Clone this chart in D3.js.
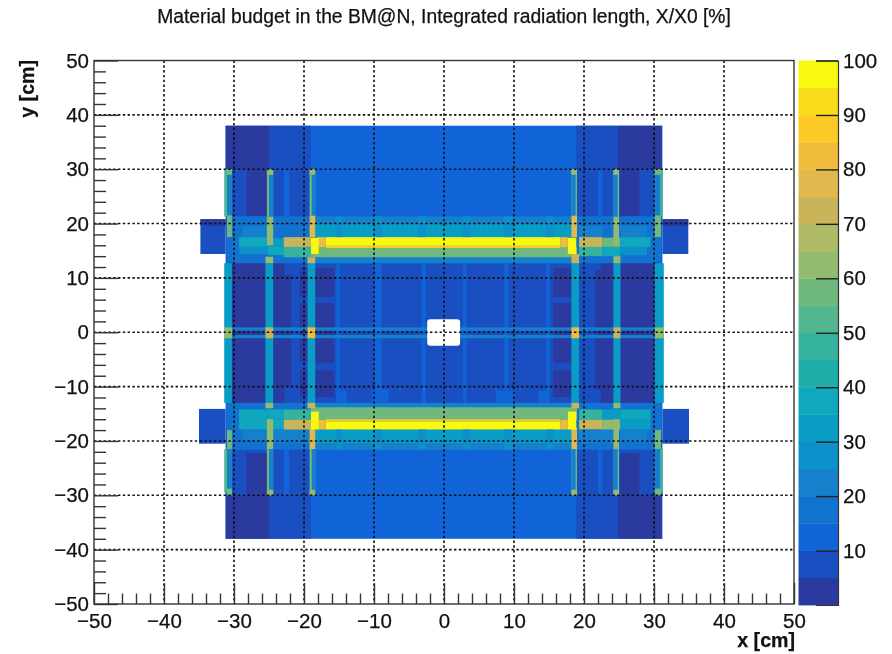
<!DOCTYPE html>
<html>
<head>
<meta charset="utf-8">
<script src="https://d3js.org/d3.v7.min.js"></script>
<style>
  html, body { margin: 0; padding: 0; background: #fff; }
  svg { display: block; filter: blur(0.35px); }
  text { font-family: "Liberation Sans", Arial, sans-serif; fill: #111; stroke: #111; stroke-width: 0.25px; }
</style>
</head>
<body>
<svg id="plot" width="892" height="654"></svg>
<script>
// palette steps, one per 5% of X/X0
const levels = [5, 10, 15, 20, 25, 30, 35, 40, 45, 50, 55, 60, 65, 70, 75, 80, 85, 90, 95];
const palette = ["#2a3a9e", "#1a4fc2", "#1064d8", "#1272d0", "#1580cc", "#0e90ca", "#099dc6", "#0fa8bd",
  "#20aeab", "#35b39c", "#52b78e", "#70b97e", "#92bb70", "#b0bb66", "#cab45a", "#dfb84e",
  "#f0bc3c", "#fdc927", "#f8dc18", "#f9f90f"];

// regions as [x0, x1, y0, y1, percent], painted in this order
const fields = [
  [-31.2, 31.2, -38, 38, 12],
  [-31.2, -25, 30, 38, 3], [-25, -19, 30, 38, 8], [18.9, 24.8, 30, 38, 8], [24.8, 31.1, 30, 38, 3],
  [-31.2, -25, -38, -30, 3], [-25, -19, -38, -30, 8], [18.9, 24.8, -38, -30, 8], [24.8, 31.1, -38, -30, 3],
  [-34.8, -31.2, 14.4, 20.8, 8], [31.2, 34.9, 14.4, 20.8, 8],
  [-34.8, -31.2, 19.6, 20.8, 3], [31.2, 34.9, 19.6, 20.8, 3],
  [-35, -31.2, -20.5, -14.1, 8], [31.2, 35, -20.5, -14.1, 8],
  [-31.2, -19, 21.3, 30, 8], [19, 31.2, 21.3, 30, 8],
  [-31.2, -19, -30, -21.6, 8], [19, 31.2, -30, -21.6, 8],
  [-31.2, 31.2, -13, 12.7, 8]
];

const patches = [
  [-28.2, -25.2, 21.4, 30, 3], [25.2, 27.9, 21.4, 30, 3],
  [-28.2, -25.2, -30, -22.3, 3], [25.2, 27.9, -30, -22.3, 3],
  [-22.9, -22.1, 21.4, 30, 12], [22, 22.6, 21.4, 30, 12],
  [-22.9, -22.1, -30, -21.6, 12], [22, 22.6, -30, -21.6, 12],
  [-16.9, -16.3, 24, 30, 14], [16, 16.6, 24, 30, 14],
  [-16.9, -16.3, -30, -25, 14], [16, 16.6, -30, -25, 14],
  [-30.3, -25.5, -13, 12.7, 3], [25.2, 30.1, -13, 12.7, 3],
  [-24.4, -22.8, -13, 12.7, 3], [22.4, 24.2, -13, 12.7, 3],
  [-22.8, -21.8, -10, 10.5, 3], [21.6, 22.4, -10.5, 11.5, 3],
  [-20.6, -15.7, 6.5, 11.8, 3], [15.6, 18.2, 6.5, 11.8, 3],
  [-20.6, -15.7, -5.7, 5.4, 3], [15.6, 18.2, -5.7, 5.4, 3],
  [-20.6, -15.7, -11.9, -7, 3], [15.6, 18.2, -11.9, -7, 3],
  [-15.4, -14.9, -13, 12.7, 13], [14.6, 15.1, -13, 12.7, 13],
  [-9.9, -8.9, -13, 12.7, 13], [8.6, 9.2, -13, 12.7, 13],
  [-3.2, -2.6, -13, 12.7, 13], [2.7, 3.2, -13, 12.7, 13],
  [-10.3, -7.9, -13, -10.5, 13], [7.4, 10.2, -13, -10.7, 13], [13.5, 15.1, -13, -10.7, 13],
  [-15.4, -13.9, -13, -10.7, 13]
];

const upperBand = [
  [-30.3, 30.1, 12.7, 21.3, 18],
  [-19, 19, 20, 21.3, 22], [-19, 19, 17.5, 20, 32],
  [-28.8, -25.2, 17.5, 19.6, 20], [-29.3, -25.2, 15.7, 17.5, 38], [-29.3, -25.2, 14.4, 15.7, 25],
  [-25.2, -22.9, 15.7, 17.3, 34], [-25.2, -22.9, 14.2, 15.7, 38],
  [-22.9, -19, 15.7, 17.5, 72], [-22.9, -19, 13.8, 15.7, 47],
  [19.3, 22.6, 17.5, 19.6, 22], [19.3, 22.6, 15.7, 17.5, 70], [19.3, 22.6, 14, 15.7, 45],
  [22.6, 25.2, 15.7, 17.4, 58], [22.6, 25.2, 14, 15.7, 35],
  [25.2, 29.5, 15.7, 17.5, 35], [25.2, 29, 14.2, 15.7, 25], [25.2, 29, 17.5, 19.6, 22],
  [-19, 19, 12.7, 13.8, 24], [-19, 19, 13.8, 15.6, 57],
  [-18, -16.9, 15.6, 17.5, 80], [16.6, 17.7, 15.6, 17.5, 82],
  [-16.9, 16.6, 15.5, 15.9, 86], [-16.9, 16.6, 15.9, 17.5, 98]
];

const lowerBand = [
  [-30.3, 30.1, -21.6, -13, 18],
  [-19, 19, -21.6, -20.4, 22], [-19, 19, -20.4, -17.9, 32],
  [-29.3, -25.2, -16.1, -14.2, 37], [-29.3, -25.2, -17.9, -16.1, 38], [-28.8, -25.2, -19.8, -17.9, 20],
  [-25.2, -22.9, -16.1, -14.2, 37], [-25.2, -22.9, -17.9, -16.1, 37], [-25.2, -19, -20.4, -17.9, 21],
  [-22.9, -19, -16.1, -14.2, 47], [-22.9, -19, -17.9, -16.1, 72],
  [19.3, 22.6, -16.1, -14.2, 45], [19.3, 22.6, -17.9, -16.1, 72], [19.3, 25, -20.4, -17.9, 22],
  [22.6, 25.2, -16.1, -14.2, 33], [22.6, 25.2, -17.9, -16.1, 60],
  [25.2, 29.5, -16.1, -14.2, 35], [25.2, 29.5, -17.9, -16.1, 33], [25.2, 29, -20.2, -17.9, 20],
  [-19, 19, -13.8, -13, 24], [-19, 19, -16.1, -13.8, 57],
  [-18, -16.9, -17.9, -16.1, 80], [16.6, 17.7, -17.9, -16.1, 82],
  [-16.9, 16.6, -16.4, -16, 86], [-16.9, 16.6, -17.9, -16.4, 98]
];

const smallSteps = [
  [-15.4, -14.5, 17.5, 21.3, 27], [-10, -8.9, 17.5, 21.3, 27], [-3.7, -2.6, 17.5, 21.3, 27],
  [2.7, 3.8, 17.5, 21.3, 27], [8.6, 9.8, 17.5, 21.3, 27], [14.6, 15.6, 17.5, 21.3, 27],
  [-15.4, -14.5, -21.6, -17.9, 27], [-10, -8.9, -21.6, -17.9, 27], [-3.7, -2.6, -21.6, -17.9, 27],
  [2.7, 3.8, -21.6, -17.9, 27], [8.6, 9.8, -21.6, -17.9, 27], [14.6, 15.6, -21.6, -17.9, 27]
];

const centreRails = [
  [-30.3, 30.1, 0.3, 0.9, 24], [-30.3, 30.1, -1.1, -0.5, 22]
];

const frameBars = [
  // x about -31
  [-31.4, -30.3, 21.3, 30, 50], [-31, -30.3, 21.3, 29, 22], [-31, -30.3, 29, 30, 57],
  [-31, -30.3, 17.5, 21.5, 57], [-31, -30.3, 13, 17.5, 18], [-31.4, -30.3, -13, 12.7, 32],
  [-31, -30.3, -18, -13, 18], [-31, -30.3, -21.5, -18, 57],
  [-31.4, -30.3, -29.5, -21.5, 50], [-31, -30.3, -28.8, -21.5, 22], [-31, -30.3, -30, -28.8, 57],
  [-31.4, -30.3, -1.1, 0.9, 62],
  // x about -25
  [-25.5, -24.4, -13, 12.7, 32], [-25.5, -24.4, 12.7, 13.9, 60], [-25.5, -24.4, -1.1, 0.9, 72],
  [-25.3, -24.4, 16, 21.3, 62], [-25.3, -24.4, 21.3, 30, 55], [-25, -24.4, 21.3, 29, 22], [-25.3, -24.4, 29, 30, 62],
  [-25.5, -24.4, -14, -13, 62], [-25.3, -24.4, -21.5, -16, 62],
  [-25.3, -24.4, -30, -21.5, 55], [-25, -24.4, -29, -21.5, 22], [-25.3, -24.4, -30, -29, 62],
  // x about -19
  [-19.5, -18.4, -13, 12.7, 33], [-19.5, -18.4, 12.7, 13.8, 72], [-19.5, -18.4, -1.1, 0.9, 82],
  [-19.2, -18.4, 17.5, 21.5, 75], [-19.2, -18.4, 21.5, 30, 55], [-18.9, -18.4, 21.5, 29, 22], [-19.2, -18.4, 29, 30, 62],
  [-19.5, -18.4, -14, -13, 72], [-19.2, -18.4, -21.5, -17.5, 75],
  [-19.2, -18.4, -30, -21.5, 55], [-18.9, -18.4, -29, -21.5, 22], [-19.2, -18.4, -30, -29, 62],
  [-19, -17.9, 14.4, 17.4, 98], [-19, -17.9, -17.9, -14.6, 98],
  // x about 18.7
  [18.2, 19.3, -13, 12.7, 33], [18.2, 19.3, 12.7, 14.4, 72], [18.2, 19.3, -1.1, 0.9, 82],
  [18.2, 19, 17.5, 21.5, 75], [18.2, 19, 21.5, 30, 55], [18.2, 18.8, 21.5, 29, 22], [18.2, 19, 29, 30, 62],
  [18.2, 19.3, -14, -13, 72], [18.2, 19, -21.5, -17.5, 75],
  [18.2, 19, -30, -21.5, 55], [18.2, 18.8, -29, -21.5, 22], [18.2, 19, -30, -29, 62],
  [17.7, 18.9, 14.4, 17.4, 98], [17.7, 18.9, -17.9, -14.6, 98],
  // x about 24.7
  [24.2, 25.2, -13, 12.7, 32], [24.2, 25.2, 12.7, 14, 60], [24.2, 25.2, -1.1, 0.9, 72],
  [24.2, 25, 16, 21.3, 62], [24.2, 25, 21.3, 30, 55], [24.2, 24.8, 21.3, 29, 22], [24.2, 25, 29, 30, 62],
  [24.2, 25.2, -14, -13, 62], [24.2, 25, -21.5, -16, 62],
  [24.2, 25, -30, -21.5, 55], [24.2, 24.8, -29, -21.5, 22], [24.2, 25, -30, -29, 62],
  // x about 30.7
  [30.1, 31.2, 21.3, 30, 50], [30.1, 30.9, 21.3, 29, 22], [30.1, 31, 29, 30, 57],
  [30.1, 31, 17.5, 21.5, 57], [30.1, 31, 13, 17.5, 18], [30.1, 31.4, -13, 12.7, 32],
  [30.1, 31, -18, -13, 18], [30.1, 31, -21.5, -18, 57],
  [30.1, 31.2, -29.5, -21.5, 50], [30.1, 30.9, -28.8, -21.5, 22], [30.1, 31, -30, -28.8, 57],
  [30.1, 31.4, -1.1, 0.9, 62]
];

const holeX = [-2.4, 2.3];
const holeY = [-2.5, 2.4];

const majorTicks = [-50, -40, -30, -20, -10, 0, 10, 20, 30, 40, 50];
const minorTicks = [-48, -46, -44, -42, -38, -36, -34, -32, -28, -26, -24, -22, -18, -16, -14, -12, -8, -6, -4, -2,
  2, 4, 6, 8, 12, 14, 16, 18, 22, 24, 26, 28, 32, 34, 36, 38, 42, 44, 46, 48];
const colorTicks = [10, 20, 30, 40, 50, 60, 70, 80, 90, 100];
const colorSteps = [0, 5, 10, 15, 20, 25, 30, 35, 40, 45, 50, 55, 60, 65, 70, 75, 80, 85, 90, 95];

const titleText = "Material budget in the BM@N, Integrated radiation length, X/X0 [%]";

const svg = d3.select("#plot");
const plot = { left: 94, right: 794, top: 60.5, bottom: 604 };

const x = d3.scaleLinear().domain([-50, 50]).range([plot.left, plot.right]);
const y = d3.scaleLinear().domain([-50, 50]).range([plot.bottom, plot.top]);
const z = d3.scaleLinear().domain([0, 100]).range([605, 60.5]);
const color = d3.scaleThreshold().domain(levels).range(palette);

const all = [...fields, ...patches, ...upperBand, ...lowerBand, ...smallSteps, ...centreRails, ...frameBars];
svg.append("g")
  .selectAll("rect")
  .data(all)
  .join("rect")
  .attr("x", d => x(d[0]))
  .attr("width", d => x(d[1]) - x(d[0]))
  .attr("y", d => y(d[3]))
  .attr("height", d => y(d[2]) - y(d[3]))
  .attr("fill", d => color(d[4]));

svg.append("rect")
  .attr("x", x(holeX[0]))
  .attr("width", x(holeX[1]) - x(holeX[0]))
  .attr("y", y(holeY[1]))
  .attr("height", y(holeY[0]) - y(holeY[1]))
  .attr("rx", 3)
  .attr("fill", "#fff");

// dotted grid
const grid = svg.append("g").attr("stroke", "#111").attr("stroke-width", 1.6).attr("stroke-dasharray", "2.4 2.4");
grid.selectAll("line.gx")
  .data(majorTicks.slice(1, -1))
  .join("line")
  .attr("class", "gx")
  .attr("x1", d => x(d)).attr("x2", d => x(d))
  .attr("y1", plot.top).attr("y2", plot.bottom);
grid.selectAll("line.gy")
  .data(majorTicks.slice(1, -1))
  .join("line")
  .attr("class", "gy")
  .attr("y1", d => y(d)).attr("y2", d => y(d))
  .attr("x1", plot.left).attr("x2", plot.right);

// axes
const xAxis = svg.append("g").attr("transform", `translate(0,${plot.bottom})`)
  .call(d3.axisBottom(x).tickValues(majorTicks).tickSize(-21).tickPadding(9).tickFormat(d3.format("d")));
const xMinor = svg.append("g").attr("transform", `translate(0,${plot.bottom})`)
  .call(d3.axisBottom(x).tickValues(minorTicks).tickSize(-10.5).tickFormat(""));
const yAxis = svg.append("g").attr("transform", `translate(${plot.left},0)`)
  .call(d3.axisLeft(y).tickValues(majorTicks).tickSize(-24).tickPadding(5).tickFormat(d3.format("d")));
const yMinor = svg.append("g").attr("transform", `translate(${plot.left},0)`)
  .call(d3.axisLeft(y).tickValues(minorTicks).tickSize(-12).tickFormat(""));

[xAxis, yAxis, xMinor, yMinor].forEach(a => {
  a.select(".domain").remove();
  a.selectAll("line").attr("stroke", "#333").attr("stroke-width", 1.4);
  a.selectAll("text").attr("font-size", 20.5);
});

svg.append("rect")
  .attr("x", plot.left).attr("y", plot.top)
  .attr("width", plot.right - plot.left).attr("height", plot.bottom - plot.top)
  .attr("fill", "none").attr("stroke", "#333").attr("stroke-width", 1.4);

// colour bar
svg.append("g")
  .selectAll("rect")
  .data(colorSteps)
  .join("rect")
  .attr("x", 798.5)
  .attr("width", 39.5)
  .attr("y", d => z(d + 5))
  .attr("height", d => z(d) - z(d + 5) + 0.4)
  .attr("fill", d => color(d + 0.1));

const zAxis = svg.append("g").attr("transform", "translate(838,0)")
  .call(d3.axisRight(z).tickValues(colorTicks).tickSize(-22).tickPadding(5).tickFormat(d3.format("d")));
zAxis.select(".domain").attr("stroke", "#333").attr("stroke-width", 1.2);
zAxis.selectAll("line").attr("stroke", "#222").attr("stroke-width", 1.4);
zAxis.selectAll("text").attr("font-size", 20.5);

// titles
svg.append("text").attr("x", 444).attr("y", 23).attr("text-anchor", "middle")
  .attr("font-size", 19.3).text(titleText);
svg.append("text").attr("x", 795).attr("y", 647).attr("text-anchor", "end")
  .attr("font-size", 19.6).attr("font-weight", "bold").text("x [cm]");
svg.append("text").attr("transform", "translate(33.5,60) rotate(-90)").attr("text-anchor", "end")
  .attr("font-size", 19.6).attr("font-weight", "bold").text("y [cm]");
</script>
</body>
</html>
